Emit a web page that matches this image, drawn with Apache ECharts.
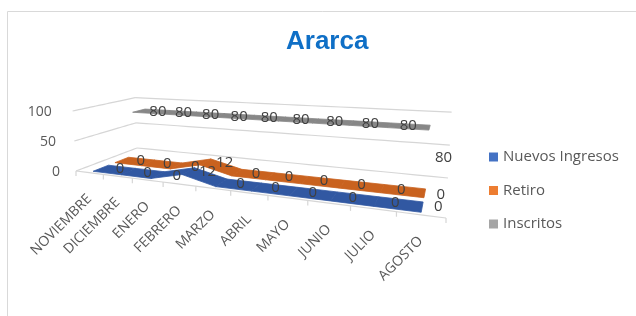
<!DOCTYPE html>
<html><head><meta charset="utf-8">
<script src="https://cdn.jsdelivr.net/npm/echarts@6/dist/echarts.min.js"></script>
<style>html,body{margin:0;padding:0;background:#fff}#c{width:636px;height:316px}</style>
</head><body><div id="c"></div>
<script>
// ---- data ----
const categories = ['NOVIEMBRE','DICIEMBRE','ENERO','FEBRERO','MARZO','ABRIL','MAYO','JUNIO','JULIO','AGOSTO'];
const nuevosIngresos = [0,0,0,12,0,0,0,0,0,0];
const retiro = [0,0,0,12,0,0,0,0,0,0];
const inscritos = [80,80,80,80,80,80,80,80,80,80];
const yTicks = [0,50,100];
const seriesNames = ['Nuevos Ingresos','Retiro','Inscritos'];

// ---- layout / style ----
const GRID = {left:76, top:111, width:370, height:60};
const FLOOR = {fl:[76,171], fr:[446,218], br:[448,178], bl:[137,148]};
const LEAN = 0.0003, LEAN_CX = 265;
const ROW_W = [1/6, 1/2, 5/6];      // depth row of each series
const HALF_DEPTH = 0.115;            // ribbon half depth
const LEGEND_COLORS = ['#4472C4','#ED7D31','#A5A5A5'];
const RIBBON_COLORS = ['#3158a2','#c9621f','#878787'];
const LABEL_OFF = [19, 1];
const LAST_LABEL_OFF = [[16,0],[16,2],[14,30]];
const FONT = '"Open Sans", "Noto Sans", sans-serif';
const seriesData = [nuevosIngresos, retiro, inscritos];

function makeHomography(p0,p1,p2,p3){
  const [x0,y0]=p0,[x1,y1]=p1,[x2,y2]=p2,[x3,y3]=p3;
  const dx1=x1-x2, dx2=x3-x2, dx3=x0-x1+x2-x3;
  const dy1=y1-y2, dy2=y3-y2, dy3=y0-y1+y2-y3;
  const den=dx1*dy2-dx2*dy1;
  const g=(dx3*dy2-dx2*dy3)/den, h=(dx1*dy3-dx3*dy1)/den;
  return {a:x1-x0+g*x1, b:x3-x0+h*x3, c:x0, d:y1-y0+g*y1, e:y3-y0+h*y3, f:y0, g:g, h:h};
}
const HM = makeHomography(FLOOR.fl, FLOOR.fr, FLOOR.br, FLOOR.bl);

// u in [0,1] along categories, w in [0,1] depth, hpx = front-plane pixel height
function projectU(u, w, hpx){
  const den = HM.g*u + HM.h*w + 1;
  let X = (HM.a*u + HM.b*w + HM.c)/den;
  let Y = (HM.d*u + HM.e*w + HM.f)/den;
  const hh = hpx/den;
  X += (X - LEAN_CX)*hh*LEAN;
  Y -= hh;
  return [X, Y];
}
// from the hidden grid's pixel coords (api.coord) to the 3D view
function projectCoord(pt, w){
  const u = (pt[0] - GRID.left)/GRID.width;
  const hpx = (GRID.top + GRID.height) - pt[1];
  return projectU(u, w, hpx);
}

function frameRender(params, api){
  const children = [];
  const lineStyle = {stroke:'#d6d6d6', lineWidth:1.2, fill:null};
  function poly(fn){
    const pts=[]; for(let k=0;k<=24;k++){ pts.push(fn(k/24)); }
    children.push({type:'polyline', shape:{points:pts}, style:lineStyle, silent:true});
  }
  const hOf = t => (GRID.top + GRID.height) - api.coord([0, t])[1];
  // floor
  poly(s => projectU(s, 0, 0));
  poly(s => projectU(0, s, 0));
  poly(s => projectU(s, 1, 0));
  // walls gridlines
  yTicks.forEach(t => {
    if (t === 0) return;
    const hp = hOf(t);
    poly(s => projectU(0, s, hp));
    poly(s => projectU(s, 1, hp));
  });
  // ticks on front edge
  for (let k=0;k<=categories.length;k++){
    const p = projectU(k/categories.length, 0, 0);
    children.push({type:'line', shape:{x1:p[0],y1:p[1],x2:p[0],y2:p[1]+5}, style:lineStyle, silent:true});
  }
  // category labels
  categories.forEach((c,i) => {
    const pt = api.coord([i, 0]);
    const p = projectCoord(pt, 0);
    children.push({type:'text', x:p[0], y:p[1]+24, rotation:Math.PI/4,
      style:{text:c, align:'right', verticalAlign:'middle', font:'14px '+FONT, fill:'#595959'}});
  });
  // y labels
  yTicks.forEach(t => {
    const hp = hOf(t);
    const p = projectU(0, 0, hp);
    children.push({type:'text', x:p[0]-16-hp*0.08, y:p[1]+1.5,
      style:{text:String(t), align:'right', verticalAlign:'middle', font:'14px '+FONT, fill:'#595959'}});
  });
  return {type:'group', children:children};
}

function ribbonRender(sIdx){
  return function(params, api){
    const arr = seriesData[sIdx];
    const i = api.value(0);
    if (i >= arr.length-1) return {type:'group', children:[]};
    const wc = ROW_W[sIdx];
    const c0 = api.coord([i, api.value(1)]);
    const c1 = api.coord([i+1, arr[i+1]]);
    const pts = [projectCoord(c0, wc-HALF_DEPTH), projectCoord(c1, wc-HALF_DEPTH),
                 projectCoord(c1, wc+HALF_DEPTH), projectCoord(c0, wc+HALF_DEPTH)];
    return {type:'polygon', shape:{points:pts},
      style:{fill:RIBBON_COLORS[sIdx], stroke:RIBBON_COLORS[sIdx], lineWidth:0.8}};
  };
}

function labelRender(params, api){
  const i = api.value(0), v = api.value(1), s = api.value(2);
  const p = projectCoord(api.coord([i, v]), ROW_W[s]);
  const off = (i === categories.length-1) ? LAST_LABEL_OFF[s] : LABEL_OFF;
  return {type:'text', x:p[0]+off[0], y:p[1]+off[1],
    style:{text:String(v), align:'center', verticalAlign:'middle', font:'15px '+FONT, fill:'#404040'}};
}

const labelData = [];
[2,1,0].forEach(s => seriesData[s].forEach((v,i) => labelData.push([i, v, s])));

const chart = echarts.init(document.getElementById('c'), null, {renderer:'canvas'});
const series = [
  {type:'custom', name:'frame', coordinateSystem:'cartesian2d', renderItem:frameRender, data:[[0,0]], silent:true, z:1}
];
[2,1,0].forEach(s => {
  series.push({type:'custom', name:seriesNames[s], coordinateSystem:'cartesian2d',
    renderItem:ribbonRender(s), itemStyle:{color:LEGEND_COLORS[s]},
    data:seriesData[s].map((v,i)=>[i,v]), z:2+(2-s), silent:true});
});
series.push({type:'custom', name:'labels', coordinateSystem:'cartesian2d', renderItem:labelRender, data:labelData, silent:true, z:10});

chart.setOption({
  animation:false,
  title:{text:'Ararca', left:281, top:24, textStyle:{fontSize:26, fontWeight:'bold', color:'#0f6fc6', fontFamily:'"Liberation Sans", Arial, sans-serif'}},
  graphic:[{type:'rect', shape:{x:7.5, y:11.5, width:700, height:400}, style:{fill:'none', stroke:'#d9d9d9', lineWidth:1}, silent:true, z:-10}],
  legend:{orient:'vertical', left:484, top:143, itemWidth:9, itemHeight:9, itemGap:15.5, icon:'rect',
    data:seriesNames, selectedMode:false,
    textStyle:{fontSize:15, color:'#595959', fontFamily:FONT, lineHeight:18}},
  grid:{left:GRID.left, top:GRID.top, width:GRID.width, height:GRID.height, show:false},
  xAxis:{type:'category', data:categories, show:false, boundaryGap:true},
  yAxis:{type:'value', min:0, max:100, interval:50, show:false},
  series:series
});
</script></body></html>
